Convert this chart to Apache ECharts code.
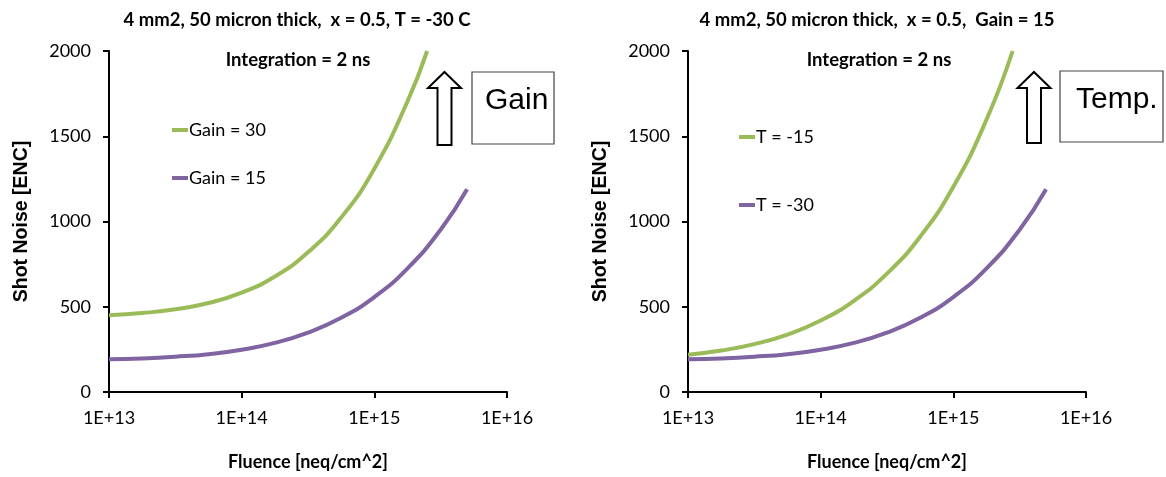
<!DOCTYPE html>
<html>
<head>
<meta charset="utf-8">
<script src="https://cdn.jsdelivr.net/npm/echarts@6/dist/echarts.min.js"></script>
<style>
html,body{margin:0;padding:0;background:#fff;}
#chart{width:1166px;height:477px;}
</style>
</head>
<body>
<div id="chart"></div>
<script>
// ---- data ----
const xTickLabels = ['1E+13', '1E+14', '1E+15', '1E+16'];
const yTickValues = [0, 500, 1000, 1500, 2000];

const leftTitle1 = '4 mm2, 50 micron thick,  x = 0.5, T = -30 C';
const rightTitle1 = '4 mm2, 50 micron thick,  x = 0.5,  Gain = 15';
const title2 = 'Integration = 2 ns';

// Left panel: T = -30 C, two gains
const fluenceGain30 = [1e13, 1.78e13, 3.16e13, 5.62e13, 1e14, 1.78e14, 3.16e14, 5.62e14, 1e15, 1.78e15, 2.5e15];
const noiseGain30   = [450, 463, 485, 522, 583, 677, 819, 1023, 1310, 1705, 2000];
const fluenceGain15 = [1e13, 1.78e13, 3.16e13, 5.62e13, 1e14, 1.78e14, 3.16e14, 5.62e14, 1e15, 1.78e15, 3.16e15, 5e15];
const noiseGain15   = [192, 197, 207, 222, 248, 288, 348, 435, 557, 725, 952, 1189];

// Right panel: Gain = 15, two temperatures
const fluenceTm15 = [1e13, 1.78e13, 3.16e13, 5.62e13, 1e14, 1.78e14, 3.16e14, 5.62e14, 1e15, 1.78e15, 2.8e15];
const noiseTm15   = [219, 243, 281, 337, 419, 535, 694, 911, 1204, 1598, 2000];
const fluenceTm30 = [1e13, 1.78e13, 3.16e13, 5.62e13, 1e14, 1.78e14, 3.16e14, 5.62e14, 1e15, 1.78e15, 3.16e15, 5e15];
const noiseTm30   = [192, 197, 207, 222, 248, 288, 348, 435, 557, 725, 952, 1189];

const GREEN = '#9bbb59';
const PURPLE = '#8064a2';
const FONT = 'Lato, "Noto Sans", sans-serif';
const ARIAL = '"Liberation Sans", Arial, sans-serif';

function pairs(xs, ys) { return xs.map((x, i) => [x, ys[i]]); }

const chart = echarts.init(document.getElementById('chart'), null, {renderer: 'canvas'});

function xAxisCfg(gridIndex) {
  return {
    type: 'log', logBase: 10, gridIndex: gridIndex,
    min: 1e13, max: 1e16,
    name: 'Fluence [neq/cm^2]', nameLocation: 'middle', nameGap: 61,
    nameTextStyle: {fontFamily: FONT, fontSize: 18, fontWeight: 'bold', color: '#000'},
    axisLine: {show: true, lineStyle: {color: '#000', width: 2}},
    axisTick: {show: true, inside: false, length: 6, lineStyle: {color: '#000', width: 2}},
    axisLabel: {fontFamily: FONT, fontSize: 18, color: '#000', margin: 17,
      formatter: v => xTickLabels[Math.round(Math.log10(v)) - 13]},
    splitLine: {show: false}, minorTick: {show: false}
  };
}
function yAxisCfg(gridIndex) {
  return {
    type: 'value', gridIndex: gridIndex, min: 0, max: 2000, interval: 500,
    name: 'Shot Noise [ENC]', nameLocation: 'middle', nameGap: 77, nameRotate: 90,
    nameTextStyle: {fontFamily: ARIAL, fontSize: 19.5, fontWeight: 'bold', color: '#000'},
    axisLine: {show: true, lineStyle: {color: '#000', width: 2}},
    axisTick: {show: true, inside: false, length: 6, lineStyle: {color: '#000', width: 2}},
    axisLabel: {fontFamily: FONT, fontSize: 18, color: '#000', margin: 18,
      formatter: v => yTickValues.indexOf(v) >= 0 ? String(v) : ''},
    splitLine: {show: false}
  };
}
function lineSeries(name, xi, xs, ys, color) {
  return {
    name: name, type: 'line', xAxisIndex: xi, yAxisIndex: xi,
    data: pairs(xs, ys), smooth: true, showSymbol: false, symbol: 'none',
    lineStyle: {color: color, width: 4}, itemStyle: {color: color},
    clip: true, animation: false
  };
}
const titleStyle = {fontFamily: FONT, fontSize: 18.5, fontWeight: 'bold', color: '#000'};
const legendBase = {
  orient: 'vertical', icon: 'rect', itemWidth: 16, itemHeight: 4,
  textStyle: {fontFamily: FONT, fontSize: 18, color: '#000', padding: [0, 0, 0, -4]}
};

function arrow(cx, top, bottom) {
  const hw = 16.5, sw = 7, hh = 16;
  return {
    type: 'polygon',
    shape: {points: [[cx, top], [cx + hw, top + hh], [cx + sw, top + hh], [cx + sw, bottom],
                     [cx - sw, bottom], [cx - sw, top + hh], [cx - hw, top + hh]]},
    style: {fill: '#fff', stroke: '#000', lineWidth: 2}
  };
}

const option = {
  backgroundColor: '#fff',
  animation: false,
  title: [
    {text: leftTitle1, left: 292, top: 6, textAlign: 'center', textStyle: titleStyle},
    {text: title2, left: 293, top: 46, textAlign: 'center', textStyle: titleStyle},
    {text: rightTitle1, left: 872, top: 6, textAlign: 'center', textStyle: titleStyle},
    {text: title2, left: 874, top: 46, textAlign: 'center', textStyle: titleStyle}
  ],
  legend: [
    Object.assign({}, legendBase, {data: ['Gain = 30', 'Gain = 15'], left: 167, top: 116, itemGap: 30}),
    Object.assign({}, legendBase, {data: ['T = -15', 'T = -30'], left: 734, top: 123, itemGap: 50})
  ],
  grid: [
    {left: 109, top: 51, width: 398, height: 341},
    {left: 688, top: 51, width: 398, height: 341}
  ],
  xAxis: [xAxisCfg(0), xAxisCfg(1)],
  yAxis: [yAxisCfg(0), yAxisCfg(1)],
  series: [
    lineSeries('Gain = 30', 0, fluenceGain30, noiseGain30, GREEN),
    lineSeries('Gain = 15', 0, fluenceGain15, noiseGain15, PURPLE),
    lineSeries('T = -15', 1, fluenceTm15, noiseTm15, GREEN),
    lineSeries('T = -30', 1, fluenceTm30, noiseTm30, PURPLE)
  ],
  graphic: [
    arrow(444.5, 72, 145),
    {type: 'rect', shape: {x: 472, y: 72, width: 82, height: 72}, style: {fill: 'none', stroke: '#444', lineWidth: 1.2}},
    {type: 'text', x: 485, y: 101, style: {text: 'Gain', fontFamily: ARIAL, fontSize: 30, fill: '#000', textVerticalAlign: 'middle'}},
    arrow(1034, 72, 143),
    {type: 'rect', shape: {x: 1060, y: 71, width: 103, height: 71}, style: {fill: 'none', stroke: '#444', lineWidth: 1.2}},
    {type: 'text', x: 1076, y: 100, style: {text: 'Temp.', fontFamily: ARIAL, fontSize: 30, fill: '#000', textVerticalAlign: 'middle'}}
  ]
};
chart.setOption(option);
</script>
</body>
</html>
